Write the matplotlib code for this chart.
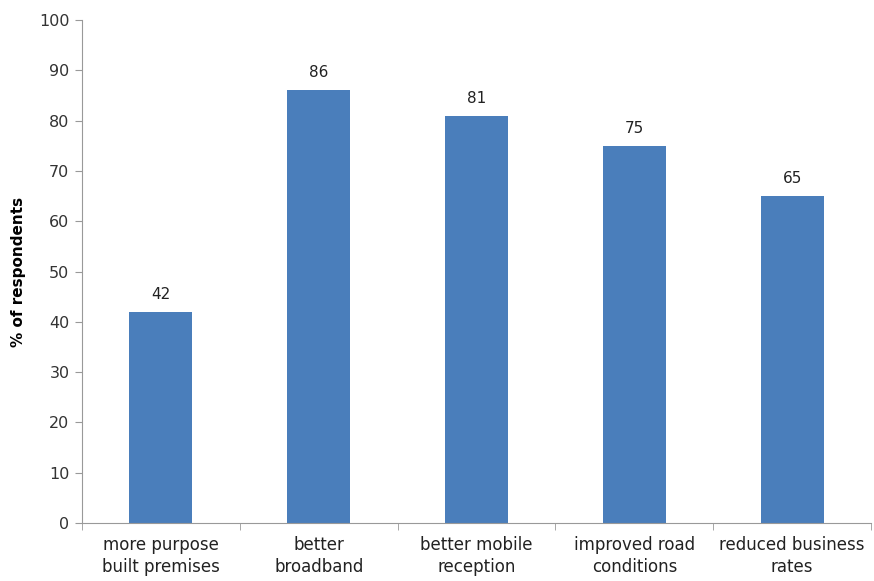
import matplotlib
matplotlib.use("Agg")
import matplotlib.pyplot as plt
import numpy as np

categories = ["more purpose\nbuilt premises", "better\nbroadband", "better mobile\nreception",
              "improved road\nconditions", "reduced business\nrates"]
values = [42, 86, 81, 75, 65]
yticks = [0, 10, 20, 30, 40, 50, 60, 70, 80, 90, 100]

plt.rcParams['font.family'] = ['DejaVu Sans']
fig = plt.figure(figsize=(8.74, 5.81), dpi=100)
ax = fig.add_axes([0.0938, 0.0998, 0.9028, 0.8658])

x = np.arange(len(categories))
ax.bar(x, values, width=0.4, color="#4a7ebb", zorder=2)
for xi, v in zip(x, values):
    ax.text(xi, v + 2, str(v), ha="center", va="bottom", fontsize=11, color="#222222")

ax.set_xlim(-0.5, len(categories) - 0.5)
ax.set_ylim(0, 100)
ax.set_yticks(yticks)
ax.set_yticklabels([str(t) for t in yticks], fontsize=11.5, color="#333333")
ax.set_xticks(x)
ax.set_xticklabels(categories, fontsize=12, color="#222222", linespacing=1.35)
ax.tick_params(axis="x", length=0, pad=9)
ax.set_xticks(np.arange(-0.5, len(categories)), minor=True)
ax.tick_params(axis="x", which="minor", length=5, color="#999999")
ax.tick_params(axis="y", length=5, color="#999999", pad=4)
for s in ["top", "right"]:
    ax.spines[s].set_visible(False)
for s in ["left", "bottom"]:
    ax.spines[s].set_color("#999999")
ax.set_ylabel("% of respondents", fontsize=11, fontweight="bold", labelpad=9)

fig.savefig("out.png", dpi=100)
